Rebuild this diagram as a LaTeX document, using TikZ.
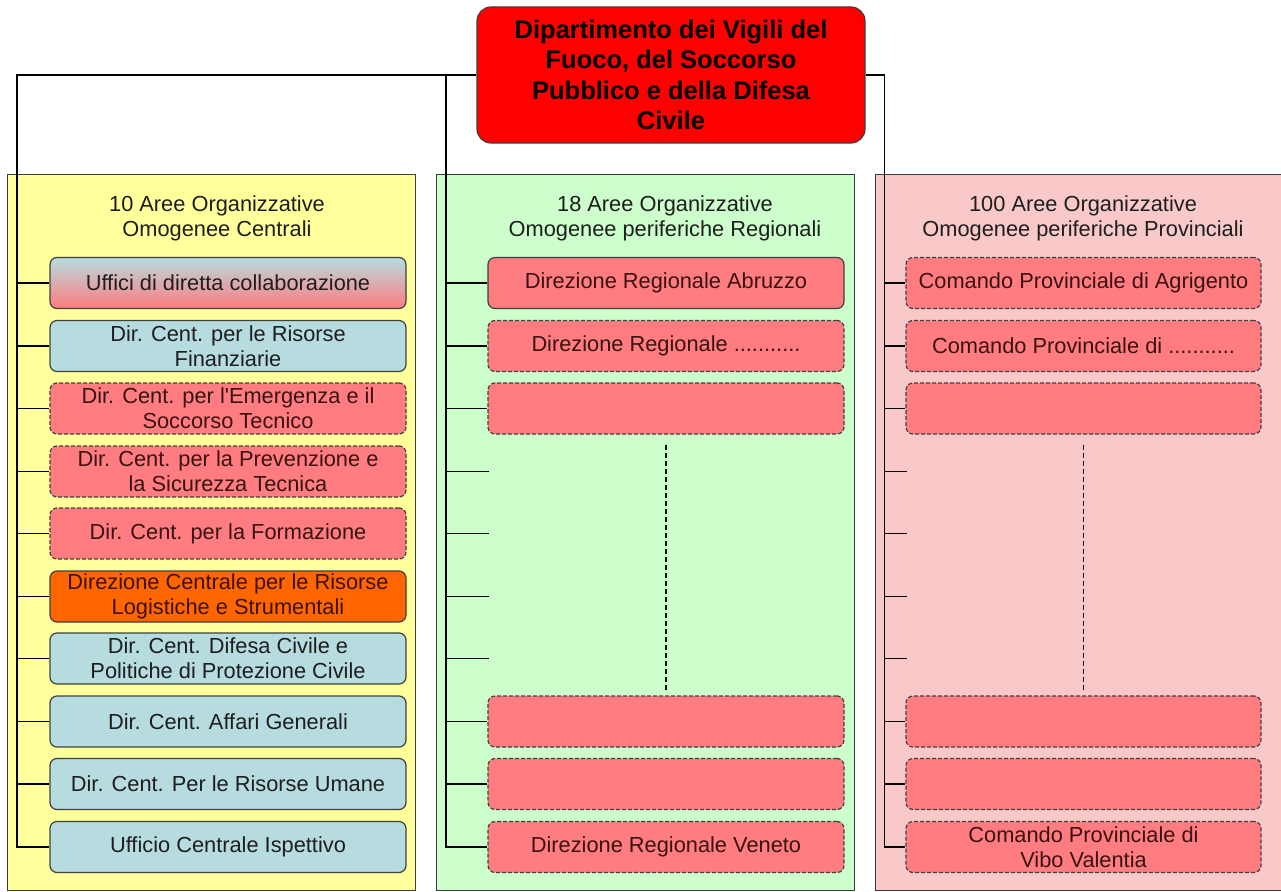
\documentclass[tikz,border=0pt]{standalone}
\usepackage{fontspec}
\setmainfont{Liberation Sans}
\usetikzlibrary{calc}
\definecolor{yellowp}{HTML}{FFFF9C}
\definecolor{greenp}{HTML}{CCFFCC}
\definecolor{pinkp}{HTML}{F9C9C9}
\definecolor{bluefill}{HTML}{B6DCE0}
\definecolor{salmon}{HTML}{FF7C80}
\definecolor{orangef}{HTML}{FF6600}
\definecolor{boxline}{HTML}{404040}
\definecolor{txt}{HTML}{1E1E1E}
\definecolor{redtxt}{HTML}{3A1212}
\definecolor{panelline}{HTML}{3C3C3C}
\begin{document}
\begin{tikzpicture}[x=1pt,y=-1pt,
  panel/.style={draw=panelline, line width=1pt},
  box/.style={rounded corners=7pt, draw=boxline, line width=1.2pt,
    minimum width=356pt, minimum height=51pt, align=center, inner sep=1pt,
    font=\fontsize{21.8}{25}\selectfont, text=txt},
  bluebox/.style={box, fill=bluefill},
  redbox/.style={box, fill=salmon, text=redtxt},
  dashbox/.style={redbox, dash pattern=on 4pt off 2pt},
  orangebox/.style={box, fill=orangef, text=redtxt},
  gradbox/.style={box, top color=bluefill, bottom color=salmon},
  ptitle/.style={align=center, font=\fontsize{21.8}{25}\selectfont, text=txt},
  conn/.style={draw=black, line width=1.2pt},
  vdots/.style={draw=black, line width=1.2pt, dash pattern=on 5pt off 3pt}
]
\useasboundingbox (0,0) rectangle (1281,891);
\fill[white] (0,0) rectangle (1281,891);

% panels
\filldraw[panel, fill=yellowp] (7.5,174) rectangle (415,890);
\filldraw[panel, fill=greenp] (436,174) rectangle (854,890);
\filldraw[panel, fill=pinkp] (875,174) rectangle (1282,890);

% top node
\node[rounded corners=14pt, draw=boxline, line width=1.2pt, fill=red,
  minimum width=388pt, minimum height=136pt, align=center, inner sep=2pt,
  font=\fontsize{25.5}{30.5}\selectfont\bfseries, text=black] (top) at (671,75)
  {Dipartimento dei Vigili del\\Fuoco, del Soccorso\\Pubblico e della Difesa\\Civile};

% panel titles
\node[ptitle] (ty) at (217,218) {10 Aree Organizzative\\Omogenee Centrali};
\node[ptitle] (tg) at (665,218) {18 Aree Organizzative\\Omogenee periferiche Regionali};
\node[ptitle] (tp) at (1083,218) {100 Aree Organizzative\\Omogenee periferiche Provinciali};

% yellow column
\node[gradbox]   (y1)  at (228,283)   {Uffici di diretta collaborazione};
\node[bluebox]   (y2)  at (228,346)   {Dir. Cent. per le Risorse\\Finanziarie};
\node[dashbox]   (y3)  at (228,408.5) {Dir. Cent. per l\textquotesingle Emergenza e il\\Soccorso Tecnico};
\node[dashbox]   (y4)  at (228,471.5) {Dir. Cent. per la Prevenzione e\\la Sicurezza Tecnica};
\node[dashbox]   (y5)  at (228,533.5) {Dir. Cent. per la Formazione};
\node[orangebox] (y6)  at (228,596.5) {Direzione Centrale per le Risorse\\Logistiche e Strumentali};
\node[bluebox]   (y7)  at (228,658.5) {Dir. Cent. Difesa Civile e\\Politiche di Protezione Civile};
\node[bluebox]   (y8)  at (228,721.5) {Dir. Cent. Affari Generali};
\node[bluebox]   (y9)  at (228,784)   {Dir. Cent. Per le Risorse Umane};
\node[bluebox]   (y10) at (228,847)   {Ufficio Centrale Ispettivo};

% green column
\node[redbox]  (g1)  at (666,283)   {Direzione Regionale Abruzzo};
\node[dashbox] (g2)  at (666,346)   {Direzione Regionale ...........};
\node[dashbox] (g3)  at (666,408.5) {};
\node[dashbox] (g8)  at (666,721.5) {};
\node[dashbox] (g9)  at (666,784)   {};
\node[dashbox] (g10) at (666,847)   {Direzione Regionale Veneto};

% pink column
\node[dashbox, minimum width=355pt] (p1)  at (1083.5,283)   {Comando Provinciale di Agrigento};
\node[dashbox, minimum width=355pt] (p2)  at (1083.5,346)   {Comando Provinciale di ...........};
\node[dashbox, minimum width=355pt] (p3)  at (1083.5,408.5) {};
\node[dashbox, minimum width=355pt] (p8)  at (1083.5,721.5) {};
\node[dashbox, minimum width=355pt] (p9)  at (1083.5,784)   {};
\node[dashbox, minimum width=355pt] (p10) at (1083.5,847)   {Comando Provinciale di\\Vibo Valentia};

% spine coordinates
\coordinate (sy) at (17,75);
\coordinate (sg) at (446,75);
\coordinate (sp) at (884.5,75);

% stub ends for empty rows
\foreach \r/\yy in {4/471.5,5/533.5,6/596.5,7/658.5}{
  \coordinate (ge\r) at (489,\yy);
  \coordinate (pe\r) at (907,\yy);
}

% main connectors
\draw[conn] (top.west) -- (sy) |- (y10.west);
\draw[conn] (sg) |- (g10.west);
\draw[conn] (top.east) -- (sp) |- (p10.west);

\foreach \n in {y1,y2,y3,y4,y5,y6,y7,y8,y9}{
  \draw[conn] (sy |- \n.west) -- (\n.west);
}
\foreach \n in {g1,g2,g3,ge4,ge5,ge6,ge7,g8,g9}{
  \draw[conn] (sg |- \n) -- (\n);
}
\foreach \n in {p1,p2,p3,pe4,pe5,pe6,pe7,p8,p9}{
  \draw[conn] (sp |- \n) -- (\n);
}

% dashed continuation lines
\draw[vdots, shorten <=10pt, shorten >=5pt] (g3.south) -- (g8.north);
\draw[vdots, shorten <=10pt, shorten >=5pt] (p3.south) -- (p8.north);
\end{tikzpicture}
\end{document}
